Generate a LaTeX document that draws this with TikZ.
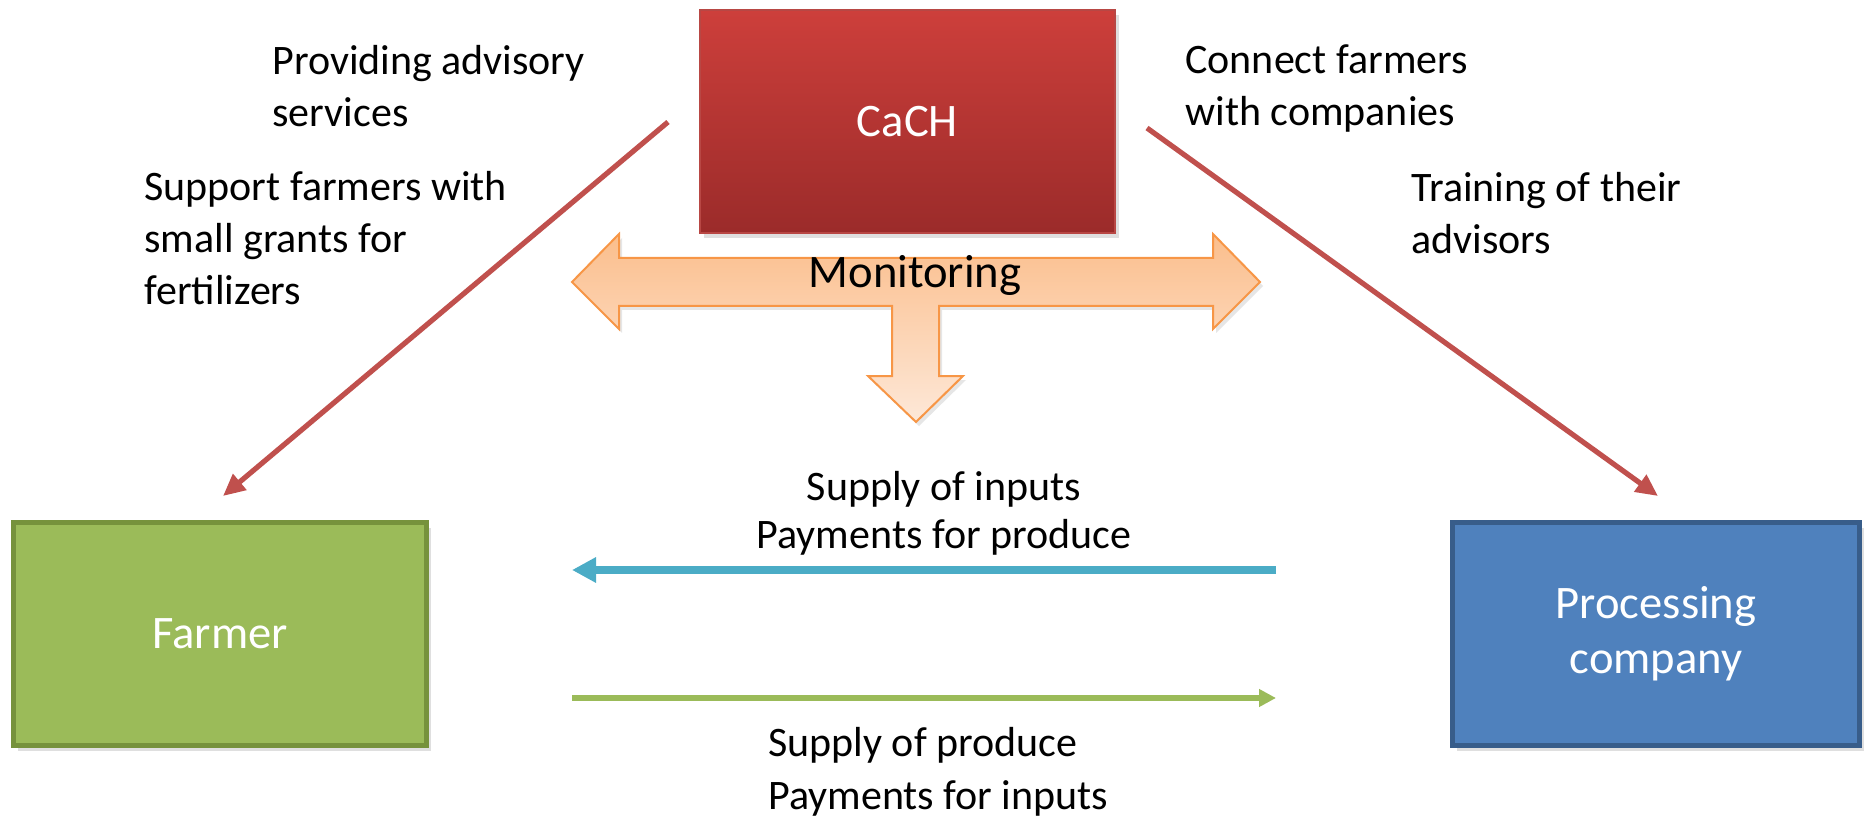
\documentclass[tikz,border=0pt]{standalone}
\usepackage{fontspec}
\setmainfont{Carlito}
\usetikzlibrary{arrows.meta,shadows}
\definecolor{cachtop}{HTML}{CD3F3B}
\definecolor{cachbot}{HTML}{9B2B2A}
\definecolor{cachline}{HTML}{B84744}
\definecolor{farmfill}{HTML}{9BBB59}
\definecolor{farmline}{HTML}{76923C}
\definecolor{procfill}{HTML}{4F81BD}
\definecolor{procline}{HTML}{385D8A}
\definecolor{redline}{HTML}{C0504D}
\definecolor{blueline}{HTML}{4BACC6}
\definecolor{greenline}{HTML}{9BBB59}
\definecolor{montop}{HTML}{FBBE8C}
\definecolor{monbot}{HTML}{FDE8D8}
\definecolor{monline}{HTML}{F79646}
\tikzset{
  bigtext/.style={font=\fontsize{23.3pt}{27.5pt}\selectfont},
  bodytext/.style={font=\fontsize{21pt}{26pt}\selectfont, inner sep=0pt},
  boxshadow/.style={drop shadow={opacity=0.25, shadow xshift=2pt, shadow yshift=-2.5pt}},
  entity/.style={bigtext, text=white, align=center, inner sep=0pt, boxshadow},
  redarrow/.style={draw=redline, line width=2.6pt, -{Triangle[length=11pt,width=10pt]}},
  bluearrow/.style={draw=blueline, line width=4pt, -{Triangle[length=12pt,width=12pt]}},
  greenarrow/.style={draw=greenline, line width=3pt, -{Triangle[length=8.5pt,width=8.5pt]}},
}
\begin{document}
\begin{tikzpicture}[x=0.5pt,y=-0.5pt]
\useasboundingbox (0,0) rectangle (1864,818);

% entities
\node[entity, top color=cachtop, bottom color=cachbot, draw=cachline, line width=0.8pt,
      minimum width=207.5pt, minimum height=111.5pt] (cach) at (907.5,121.5) {CaCH};
\node[entity, fill=farmfill, draw=farmline, line width=2.5pt,
      minimum width=206.5pt, minimum height=111.5pt] (farmer) at (220,634) {Farmer};
\node[entity, fill=procfill, draw=procline, line width=2.5pt,
      minimum width=203.5pt, minimum height=111.5pt] (proc) at (1656,634) {Processing\\company};

% monitoring arrow
\shadedraw[top color=montop, bottom color=monbot, draw=monline, line width=1pt, line join=miter,
  drop shadow={opacity=0.2, shadow xshift=1.5pt, shadow yshift=-2pt}]
  (572,282) -- (619,234) -- (619,258) -- (1213,258) -- (1213,234) -- (1260,282)
  -- (1213,329) -- (1213,306) -- (939,306) -- (939,376) -- (963,376) -- (916,422)
  -- (868,376) -- (892,376) -- (892,306) -- (619,306) -- (619,329) -- cycle;
\node[bigtext, inner sep=0pt, anchor=base] (mon) at (915,288) {Monitoring};

% red connectors
\coordinate (ls) at (668,122);
\coordinate (le) at (223,496);
\coordinate (rs) at (1147,128);
\coordinate (re) at (1658,496);
\draw[redarrow] (ls) -- (le);
\draw[redarrow] (rs) -- (re);

% flows between farmer and company
\coordinate (bs) at (1276,570);
\coordinate (be) at (572,570);
\coordinate (gs) at (572,698);
\coordinate (ge) at (1276,698);
\draw[bluearrow] (bs) -- (be);
\draw[greenarrow] (gs) -- (ge);

% labels (anchored at the baseline of their last line)
\node[bodytext, align=left, anchor=base west] (t1) at (272,127) {Providing advisory\\services};
\node[bodytext, align=left, anchor=base west] (t2) at (144,305) {Support farmers with\\small grants for\\fertilizers};
\node[bodytext, align=left, anchor=base west] (t3) at (1185,126) {Connect farmers\\with companies};
\node[bodytext, align=left, anchor=base west] (t4) at (1411,254) {Training of their\\advisors};
\node[bodytext, font=\fontsize{21pt}{24pt}\selectfont, align=center, anchor=base] (t5) at (944,548) {Supply of inputs\\Payments for produce};
\node[bodytext, font=\fontsize{21pt}{26.5pt}\selectfont, align=left, anchor=base west] (t6) at (768,809) {Supply of produce\\Payments for inputs};
\end{tikzpicture}
\end{document}
